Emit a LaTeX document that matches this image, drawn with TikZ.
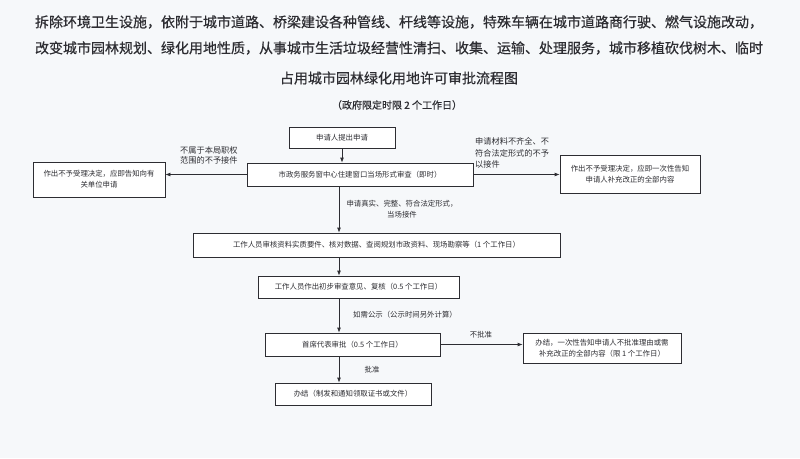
\documentclass[tikz,border=0pt]{standalone}
\usepackage{fontspec}
\setmainfont{Noto Sans CJK SC}
\newfontfamily\titlefont[FakeBold=0.6]{Noto Sans CJK SC}
\usetikzlibrary{arrows.meta}
\definecolor{bgc}{RGB}{246,248,250}
\definecolor{inkc}{RGB}{45,45,50}
\tikzset{
  box/.style={draw=inkc, line width=0.8pt, fill=white, text=inkc, font=\fontsize{7.4}{11}\selectfont, align=center, inner sep=2pt},
  lbl/.style={text=inkc, font=\fontsize{7.4}{11}\selectfont, inner sep=0pt},
  ttl/.style={text=inkc, font=\titlefont\fontsize{14}{16}\selectfont, inner sep=0pt},
  arr/.style={draw=inkc, line width=0.8pt, -{Latex[length=5pt,width=4pt]}}
}
\begin{document}
\begin{tikzpicture}[x=1pt,y=-1pt]
\fill[bgc] (0,0) rectangle (800,458);
\useasboundingbox (0,0) rectangle (800,458);
% title
\node[ttl] (t1) at (399,22) {拆除环境卫生设施，依附于城市道路、桥梁建设各种管线、杆线等设施，特殊车辆在城市道路商行驶、燃气设施改动，};
\node[ttl] (t2) at (399,48) {改变城市园林规划、绿化用地性质，从事城市生活垃圾经营性清扫、收集、运输、处理服务，城市移植砍伐树木、临时};
\node[ttl] (t3) at (399,78) {占用城市园林绿化用地许可审批流程图};
\node[ttl, font=\titlefont\fontsize{10}{12}\selectfont] (t4) at (397,105) {（政府限定时限 2 个工作日）};
% boxes
\node[box, minimum width=106pt, minimum height=21pt] (b1) at (342,137.5) {申请人提出申请};
\node[box, minimum width=226pt, minimum height=23pt] (b2) at (360,174.5) {市政务服务窗中心住建窗口当场形式审查（即时）};
\node[box, minimum width=132pt, minimum height=35pt] (l1) at (99,179.5) {作出不予受理决定，应即告知向有\\关单位申请};
\node[box, minimum width=140pt, minimum height=38pt] (r1) at (630,174) {作出不予受理决定，应即一次性告知\\申请人补充改正的全部内容};
\node[box, minimum width=367pt, minimum height=24pt] (b3) at (376.5,245) {工作人员审核资料实质要件、核对数据、查阅规划市政资料、现场勘察等（1 个工作日）};
\node[box, minimum width=201pt, minimum height=22pt] (b4) at (358.5,287) {工作人员作出初步审查意见、复核（0.5 个工作日）};
\node[box, minimum width=175pt, minimum height=23pt] (b5) at (352.5,344.5) {首席代表审批（0.5 个工作日）};
\node[box, minimum width=158pt, minimum height=30pt] (r2) at (602,348) {办结，一次性告知申请人不批准理由或需\\补充改正的全部内容（限 1 个工作日）};
\node[box, minimum width=156pt, minimum height=22pt] (b6) at (353,394) {办结（制发和通知领取证书或文件）};
% labels
\node[lbl, anchor=north west, align=left, font=\fontsize{8.2}{10.5}\selectfont] (lb1) at (180,146) {不属于本局职权\\范围的不予接件};
\node[lbl, anchor=west, align=left, font=\fontsize{8.2}{11.5}\selectfont] (lb2) at (475,153) {申请材料不齐全、不\\符合法定形式的不予\\以接件};
\node[lbl, align=center] (lb3) at (402,209) {申请真实、完整、符合法定形式，\\当场接件};
\node[lbl] (lb4) at (405,315) {如需公示（公示时间另外计算）};
\node[lbl] (lb5) at (481,335) {不批准};
\node[lbl] (lb6) at (372,370) {批准};
% connectors
\coordinate (vx) at (339,0);
\draw[arr] (b1.south) -- (b1.south |- b2.north);
\draw[arr] (b2.south -| vx) -- (b3.north -| vx);
\draw[arr] (b3.south -| vx) -- (b4.north -| vx);
\draw[arr] (b4.south -| vx) -- (b5.north -| vx);
\draw[arr] (b5.south -| vx) -- (b6.north -| vx);
\draw[arr] (b2.west) -- (l1.east |- b2.west);
\draw[arr] (b2.east) -- (r1.west |- b2.east);
\draw[arr] (b5.east) -- (r2.west |- b5.east);
\end{tikzpicture}
\end{document}
